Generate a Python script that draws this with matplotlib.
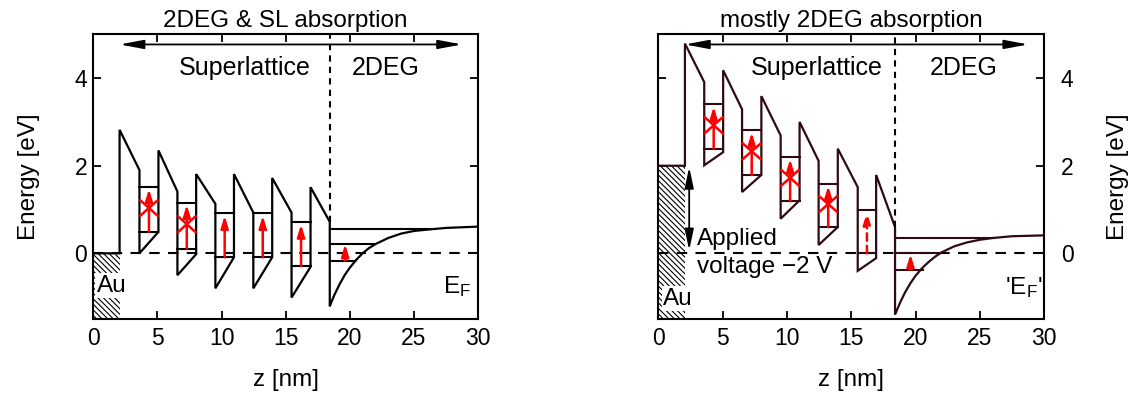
import matplotlib
matplotlib.use("Agg")
import matplotlib.pyplot as plt
from matplotlib.patches import Rectangle

plt.rcParams["font.family"] = ["Liberation Sans", "DejaVu Sans"]
plt.rcParams["mathtext.default"] = "regular"
plt.rcParams["hatch.linewidth"] = 0.8

RED = "#ff0000"
MAROON = "#2e0a14"

# ---- left panel: no bias (2DEG & SL absorption)
band_z_L = [0, 2.05, 2.05, 3.6, 3.6, 5.08, 5.08, 6.56, 6.56, 8.02, 8.02, 9.52, 9.52,
            10.97, 10.97, 12.48, 12.48, 13.95, 13.95, 15.46, 15.46, 16.94, 16.94, 18.44, 18.44]
band_E_L = [0, 0, 2.82, 1.9, 0.0, 0.49, 2.35, 1.41, -0.5, -0.02, 1.81, 1.13, -0.8,
            -0.09, 1.81, 0.93, -0.8, -0.09, 1.72, 0.93, -1.01, -0.31, 1.51, 0.72, -1.21]
curve_z_L = [18.44, 18.6, 18.8, 19.2, 19.6, 20.0, 20.5, 21.0, 21.5, 22.0, 23.0, 24.0, 25.0, 26.0, 27.5, 30.0]
curve_E_L = [-1.21, -1.09, -0.95, -0.71, -0.50, -0.33, -0.15, 0.0, 0.12, 0.21, 0.35, 0.45, 0.51, 0.54, 0.58, 0.61]
well_lo_L = [0.49, 0.11, -0.09, -0.09, -0.29]
well_hi_L = [1.52, 1.16, 0.91, 0.91, 0.71]
crossed_L = [True, True, False, False, False]
dashed_L = [False, False, False, False, False]
deg_E_L = [-0.17, 0.21, 0.56]
deg_end_L = [20.4, 22.0, 26.4]
deg_arrow_L = (-0.17, 0.21)

# ---- right panel: -2 V bias (mostly 2DEG absorption)
band_z_R = [0, 2.07, 2.07, 3.57, 3.57, 5.04, 5.04, 6.51, 6.51, 8.01, 8.01, 9.51, 9.51,
            10.98, 10.98, 12.46, 12.46, 13.95, 13.95, 15.5, 15.5, 16.93, 16.93, 18.4, 18.4]
band_E_R = [2.0, 2.0, 4.79, 3.91, 2.01, 2.31, 4.18, 3.29, 1.40, 1.79, 3.59, 2.69, 0.79,
            1.21, 3.0, 2.11, 0.19, 0.6, 2.39, 1.51, -0.40, -0.11, 1.79, 0.6, -1.40]
curve_z_R = [18.4, 18.6, 18.8, 19.2, 19.6, 20.0, 20.5, 21.0, 21.5, 22.0, 23.0, 24.0, 25.0, 26.0, 27.5, 30.0]
curve_E_R = [-1.40, -1.26, -1.12, -0.88, -0.68, -0.51, -0.34, -0.20, -0.08, 0.02, 0.16, 0.25, 0.31, 0.35, 0.39, 0.41]
well_lo_R = [2.39, 1.79, 1.19, 0.60, 0.0]
well_hi_R = [3.40, 2.81, 2.20, 1.59, 0.99]
crossed_R = [True, True, True, True, False]
dashed_R = [False, False, False, False, True]
deg_E_R = [-0.37, 0.0, 0.35]
deg_end_R = [20.6, 22.0, 26.2]
deg_arrow_R = (-0.37, -0.02)

xticks = [0, 5, 10, 15, 20, 25, 30]
yticks = [0, 2, 4]

fig = plt.figure(figsize=(11.36, 3.97), dpi=100)
W, H = 1136, 397
axL = fig.add_axes([93.3 / W, 1 - 319 / H, (478 - 93.3) / W, (319 - 33.5) / H])
axR = fig.add_axes([658.3 / W, 1 - 319 / H, (1044.3 - 658.3) / W, (319 - 33.5) / H])


def red_arrow(ax, z, e0, e1, dashed=False):
    ax.annotate("", xy=(z, e1), xytext=(z, e0),
                arrowprops=dict(arrowstyle="-|>,head_length=0.55,head_width=0.17",
                                mutation_scale=13, color=RED, lw=1.8,
                                ls=(0, (3, 2)) if dashed else "-", shrinkA=0, shrinkB=0))


def panel(ax, bz, bE, cz, cE, lo, hi, crossed, dashed, degE, degEnd, degArr, col, au_top):
    ax.set_xlim(0, 30)
    ax.set_ylim(-1.5, 5.02)
    # Au contact
    ax.add_patch(Rectangle((0, -1.5), bz[1], au_top + 1.5, fill=False, hatch="\\" * 6,
                           edgecolor="k", lw=0))
    # Fermi level
    ax.plot([0, 30], [0, 0], color="k", lw=1.5, ls=(0, (5, 4)))
    # conduction band
    ax.plot(bz + cz, bE + cE, color=col, lw=1.6, solid_joinstyle="miter")
    zs = cz[0]
    ax.plot([zs, zs], [bE[-2], 5.02], color="k", lw=1.5, ls=(0, (3, 2.5)))
    # subband levels in the wells
    for i in range(5):
        zl, zr = bz[3 + 4 * i], bz[5 + 4 * i]
        for e in (lo[i], hi[i]):
            ax.plot([zl, zr], [e, e], color=col, lw=1.5)
        zc = 0.5 * (zl + zr)
        red_arrow(ax, zc, lo[i], hi[i] - 0.05, dashed[i])
        if crossed[i]:
            c = 0.5 * (lo[i] + hi[i]) + 0.03
            h = 0.18
            ax.plot([zl + 0.05, zr - 0.05], [c - h, c + h], color=RED, lw=1.8)
            ax.plot([zl + 0.05, zr - 0.05], [c + h, c - h], color=RED, lw=1.8)
    # 2DEG levels
    for e, ze in zip(degE, degEnd):
        ax.plot([zs, ze], [e, e], color=col, lw=1.5)
    red_arrow(ax, zs + 1.2, degArr[0], degArr[1])
    # regions arrow
    ax.annotate("", xy=(28.75, 4.77), xytext=(bz[1], 4.77),
                arrowprops=dict(arrowstyle="<|-|>,head_length=0.8,head_width=0.15",
                                mutation_scale=18, color="k", lw=1.3, shrinkA=0, shrinkB=0))

    ax.set_xticks(xticks)
    ax.set_yticks(yticks)
    ax.tick_params(direction="in", length=6, width=1.3, top=True, right=True,
                   labelsize=16.5)
    ax.tick_params(axis="x", pad=6)
    for s in ax.spines.values():
        s.set_linewidth(1.5)
    ax.set_xlabel("z [nm]", fontsize=17.5)
    ax.xaxis.set_label_coords(0.5, -0.175)


panel(axL, band_z_L, band_E_L, curve_z_L, curve_E_L, well_lo_L, well_hi_L, crossed_L,
      dashed_L, deg_E_L, deg_end_L, deg_arrow_L, "k", 0.0)
panel(axR, band_z_R, band_E_R, curve_z_R, curve_E_R, well_lo_R, well_hi_R, crossed_R,
      dashed_R, deg_E_R, deg_end_R, deg_arrow_R, MAROON, 2.0)

fs = 17.5
axL.set_title("2DEG & SL absorption", fontsize=fs, pad=5)
axR.set_title("mostly 2DEG absorption", fontsize=fs, pad=5)
axL.tick_params(axis="y", pad=4.5)
axL.set_ylabel("Energy [eV]", fontsize=fs)
axL.yaxis.set_label_coords(-0.139, 0.5)
axR.tick_params(axis="y", labelleft=False, labelright=True, pad=12)
axR.yaxis.set_label_position("right")
axR.set_ylabel("Energy [eV]", fontsize=fs)
axR.yaxis.set_label_coords(1.162, 0.5)

for ax, zsl, z2d in ((axL, 11.8, 22.8), (axR, 12.3, 23.7)):
    ax.text(zsl, 4.07, "Superlattice", fontsize=18, ha="center", va="baseline")
    ax.text(z2d, 4.07, "2DEG", fontsize=18, ha="center", va="baseline")

wb = dict(facecolor="white", edgecolor="none", pad=1)
axL.text(0.25, -0.88, "Au", fontsize=fs, va="baseline", bbox=wb)
axR.text(0.38, -1.17, "Au", fontsize=fs, va="baseline", bbox=wb)
axL.text(27.3, -0.91, "E$_F$", fontsize=fs, va="baseline")
axR.text(26.95, -0.93, "'E$_F$'", fontsize=fs, va="baseline")

axR.annotate("", xy=(2.4, 0.07), xytext=(2.4, 1.97),
             arrowprops=dict(arrowstyle="<|-|>,head_length=0.7,head_width=0.15",
                             mutation_scale=18, color="k", lw=1.3, shrinkA=0, shrinkB=0))
axR.text(3.0, 0.2, "Applied", fontsize=fs, va="baseline")
axR.text(3.0, -0.45, "voltage \u22122 V", fontsize=fs, va="baseline")

fig.savefig("out.png", dpi=100)
